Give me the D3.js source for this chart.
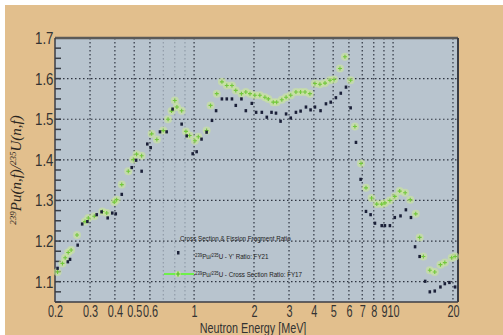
<!DOCTYPE html>
<html>
<head>
<meta charset="utf-8">
<script src="https://cdn.jsdelivr.net/npm/d3@7"></script>
<style>
  body { margin: 0; background: #fff; }
  svg { display: block; }
</style>
</head>
<body>
<script>
var width = 503;
var height = 335;

// FY17 cross section ratio (green)
var fy17Energy = [0.206, 0.218, 0.225, 0.233, 0.241, 0.258, 0.283, 0.294, 0.315, 0.346, 0.364, 0.397, 0.408, 0.433,
  0.467, 0.495, 0.514, 0.545, 0.612, 0.65, 0.70, 0.74, 0.77, 0.80, 0.82, 0.866, 0.91, 0.95, 1.01, 1.05, 1.156,
  1.21, 1.30, 1.38, 1.46, 1.55, 1.62, 1.73, 1.82, 1.91, 2.02, 2.14, 2.27, 2.36, 2.50, 2.60, 2.76, 2.90, 3.06,
  3.25, 3.43, 3.61, 3.82, 4.05, 4.29, 4.55, 4.82, 5.05, 5.41, 5.73, 6.12, 6.43, 6.90, 7.31, 7.80, 8.28, 8.77,
  9.10, 9.64, 10.2, 10.8, 11.5, 12.2, 13.0, 13.6, 14.2, 15.3, 16.2, 17.3, 18.2, 19.7, 20.5];
var fy17Ratio = [1.124, 1.145, 1.159, 1.172, 1.178, 1.215, 1.248, 1.257, 1.261, 1.273, 1.269, 1.296, 1.302, 1.339,
  1.372, 1.401, 1.414, 1.41, 1.464, 1.45, 1.472, 1.50, 1.52, 1.546, 1.53, 1.521, 1.47, 1.46, 1.447, 1.457, 1.472,
  1.534, 1.563, 1.592, 1.583, 1.583, 1.571, 1.563, 1.567, 1.563, 1.559, 1.559, 1.554, 1.55, 1.542, 1.542, 1.548, 1.554, 1.559,
  1.567, 1.567, 1.567, 1.563, 1.588, 1.586, 1.589, 1.596, 1.598, 1.625, 1.654, 1.596, 1.482, 1.391, 1.331, 1.306, 1.291, 1.291,
  1.294, 1.30, 1.31, 1.323, 1.319, 1.302, 1.267, 1.209, 1.162, 1.128, 1.124, 1.142, 1.147, 1.159, 1.162];

// FY21 fission fragment ratio (black)
var fy21Energy = [0.206, 0.232, 0.238, 0.260, 0.274, 0.291, 0.324, 0.343, 0.368, 0.388, 0.404, 0.433, 0.486, 0.511,
  0.545, 0.582, 0.605, 0.674, 0.728, 0.78, 0.866, 0.918, 0.984, 1.03, 1.09, 1.156, 1.23, 1.29, 1.38, 1.46, 1.55,
  1.62, 1.73, 1.82, 1.95, 2.05, 2.19, 2.32, 2.45, 2.58, 2.72, 2.90, 3.06, 3.25, 3.43, 3.65, 3.85, 4.05, 4.32,
  4.60, 4.86, 5.16, 5.46, 5.80, 6.12, 6.51, 6.87, 7.31, 7.71, 8.11, 8.77, 9.10, 9.64, 10.2, 10.9, 11.6, 12.3,
  12.9, 13.6, 14.5, 15.3, 16.2, 17.3, 18.2, 19.2, 20.5];
var fy21Ratio = [1.133, 1.149, 1.155, 1.19, 1.242, 1.248, 1.265, 1.272, 1.257, 1.269, 1.267, 1.315, 1.381, 1.399,
  1.372, 1.439, 1.43, 1.469, 1.469, 1.525, 1.488, 1.459, 1.415, 1.42, 1.451, 1.468, 1.497, 1.521, 1.55, 1.55, 1.55,
  1.534, 1.55, 1.521, 1.539, 1.517, 1.517, 1.505, 1.517, 1.515, 1.495, 1.513, 1.503, 1.517, 1.52, 1.53, 1.523, 1.53, 1.521,
  1.538, 1.542, 1.553, 1.564, 1.579, 1.528, 1.443, 1.352, 1.273, 1.265, 1.244, 1.238, 1.238, 1.238, 1.258, 1.262, 1.277, 1.258,
  1.186, 1.162, 1.101, 1.075, 1.077, 1.087, 1.095, 1.098, 1.087];

var xTickValues = [0.2, 0.3, 0.4, 0.5, 0.6, 1, 2, 3, 4, 5, 6, 7, 8, 9, 10, 20];
var xMinorGrid = [0.7, 0.8, 0.9];
var yTickValues = [1.1, 1.2, 1.3, 1.4, 1.5, 1.6, 1.7];

var legendTitle = "Cross Section & Fission Fragment Ratio";

var narrow = "'Liberation Sans Narrow', 'Liberation Sans', Arial, sans-serif";

var svg = d3.select("body").append("svg")
  .attr("width", width)
  .attr("height", height);

// page background
svg.append("rect").attr("width", width).attr("height", height).attr("fill", "#fff");
svg.append("rect").attr("x", 5).attr("y", 5).attr("width", width - 5).attr("height", height - 5).attr("fill", "#e2bf8d");

var plotLeft = 55, plotRight = 458, plotTop = 38, plotBottom = 302;

var x = d3.scaleLog().domain([0.2, 21.2]).range([plotLeft, plotRight]);
var y = d3.scaleLinear().domain([1.05, 1.7]).range([plotBottom, plotTop]);

svg.append("rect")
  .attr("x", plotLeft).attr("y", plotTop)
  .attr("width", plotRight - plotLeft).attr("height", plotBottom - plotTop)
  .attr("fill", "#b8c4ce");

// grid
svg.append("g").selectAll("line")
  .data(xMinorGrid)
  .enter().append("line")
  .attr("x1", d => x(d)).attr("x2", d => x(d))
  .attr("y1", plotTop).attr("y2", plotBottom)
  .attr("stroke", "#8893a0")
  .attr("stroke-width", 1)
  .attr("stroke-dasharray", "1.5,2.5");

svg.append("g").selectAll("line")
  .data(xTickValues.slice(1))
  .enter().append("line")
  .attr("x1", d => x(d)).attr("x2", d => x(d))
  .attr("y1", plotTop).attr("y2", plotBottom)
  .attr("stroke", "#2e3440")
  .attr("stroke-width", 1.2)
  .attr("stroke-dasharray", "1.5,2.5");

svg.append("g").selectAll("line")
  .data(yTickValues.slice(0, -1))
  .enter().append("line")
  .attr("x1", plotLeft).attr("x2", plotRight)
  .attr("y1", d => y(d)).attr("y2", d => y(d))
  .attr("stroke", "#2e3440")
  .attr("stroke-width", 1.2)
  .attr("stroke-dasharray", "1.5,2.5");

// minor y ticks (inside)
svg.append("g").selectAll("line")
  .data(d3.range(1.05, 1.701, 0.025))
  .enter().append("line")
  .attr("x1", plotLeft).attr("x2", plotLeft + 6)
  .attr("y1", d => y(d)).attr("y2", d => y(d))
  .attr("stroke", "#3a3f48")
  .attr("stroke-width", 1.5);

// axes
var yAxis = svg.append("g")
  .attr("transform", "translate(" + plotLeft + ",0)")
  .call(d3.axisLeft(y).tickValues(yTickValues).tickSize(0).tickPadding(2).tickFormat(d3.format(".1f")));
yAxis.select(".domain").remove();
yAxis.selectAll("text")
  .attr("font-family", narrow).attr("font-size", 17).attr("fill", "#333")
  .attr("transform", "scale(0.78,1)");

var xAxis = svg.append("g")
  .attr("transform", "translate(0," + plotBottom + ")")
  .call(d3.axisBottom(x).tickValues(xTickValues).tickSize(0).tickPadding(4).tickFormat(d => String(d)));
xAxis.select(".domain").remove();
xAxis.selectAll("text")
  .attr("font-family", narrow).attr("font-size", 16).attr("fill", "#333")
  .attr("transform", "scale(0.68,1)");

// frame
svg.append("line").attr("x1", plotLeft).attr("x2", plotRight).attr("y1", plotTop).attr("y2", plotTop)
  .attr("stroke", "#5b5a58").attr("stroke-width", 2.5);
svg.append("line").attr("x1", plotLeft).attr("x2", plotLeft).attr("y1", plotTop).attr("y2", plotBottom)
  .attr("stroke", "#3b3d44").attr("stroke-width", 1.5);
svg.append("line").attr("x1", plotRight).attr("x2", plotRight).attr("y1", plotTop).attr("y2", plotBottom)
  .attr("stroke", "#3b3d44").attr("stroke-width", 2);
svg.append("line").attr("x1", plotLeft).attr("x2", plotRight).attr("y1", plotBottom).attr("y2", plotBottom)
  .attr("stroke", "#3b3d44").attr("stroke-width", 1.5);

// data
var fy17 = fy17Energy.map((e, i) => ({e: e, r: fy17Ratio[i]}));
var fy21 = fy21Energy.map((e, i) => ({e: e, r: fy21Ratio[i]}));

var greenG = svg.append("g");
greenG.selectAll("circle")
  .data(fy17)
  .enter().append("circle")
  .attr("cx", d => x(d.e)).attr("cy", d => y(d.r))
  .attr("r", 4)
  .attr("fill", "#cbe89a")
  .attr("opacity", 0.6);
greenG.selectAll("path")
  .data(fy17)
  .enter().append("path")
  .attr("d", d => "M" + (x(d.e) - 2) + "," + y(d.r) + "h4M" + x(d.e) + "," + (y(d.r) - 2) + "v4")
  .attr("stroke", "#72c83a")
  .attr("stroke-width", 1.1);

svg.append("g").selectAll("rect")
  .data(fy21)
  .enter().append("rect")
  .attr("x", d => x(d.e) - 1.3).attr("y", d => y(d.r) - 1.6)
  .attr("width", 2.6).attr("height", 3.2)
  .attr("fill", "#1b2038");

// legend
var lg = svg.append("g")
  .attr("font-family", narrow)
  .attr("font-size", 8)
  .attr("fill", "#222");
lg.append("text").attr("transform", "translate(180,241) scale(0.78,1)").text(legendTitle);

lg.append("rect").attr("x", 177).attr("y", 251).attr("width", 2.5).attr("height", 3.5).attr("fill", "#1b2038");
var t1 = lg.append("text").attr("transform", "translate(195,259) scale(0.78,1)");
t1.append("tspan").attr("font-size", 5.5).attr("dy", -2.5).text("239");
t1.append("tspan").attr("dy", 2.5).text("Pu/");
t1.append("tspan").attr("font-size", 5.5).attr("dy", -2.5).text("235");
t1.append("tspan").attr("dy", 2.5).text("U - Y' Ratio: FY21");

lg.append("line").attr("x1", 164).attr("x2", 194).attr("y1", 274).attr("y2", 274)
  .attr("stroke", "#6ef04a").attr("stroke-width", 2);
lg.append("circle").attr("cx", 178).attr("cy", 274).attr("r", 3).attr("fill", "#c9e6a0");
lg.append("path").attr("d", "M175.5,274h5M178,271.5v5").attr("stroke", "#4cbf20").attr("stroke-width", 1.2);
var t2 = lg.append("text").attr("transform", "translate(195,277) scale(0.78,1)");
t2.append("tspan").attr("font-size", 5.5).attr("dy", -2.5).text("239");
t2.append("tspan").attr("dy", 2.5).text("Pu/");
t2.append("tspan").attr("font-size", 5.5).attr("dy", -2.5).text("235");
t2.append("tspan").attr("dy", 2.5).text("U - Cross Section Ratio: FY17");

// axis titles
svg.append("text")
  .attr("transform", "translate(253,333) scale(0.72,1)")
  .attr("text-anchor", "middle")
  .attr("font-family", narrow)
  .attr("font-size", 15)
  .attr("fill", "#333")
  .text("Neutron Energy [MeV]");

var yl = svg.append("text")
  .attr("transform", "translate(21,170) rotate(-90)")
  .attr("text-anchor", "middle")
  .attr("font-family", "'Liberation Serif', serif")
  .attr("font-style", "italic")
  .attr("font-size", 15)
  .attr("fill", "#2a2520");
yl.append("tspan").attr("font-size", 9).attr("dy", -5).text("239");
yl.append("tspan").attr("dy", 5).text("Pu(n,f)/");
yl.append("tspan").attr("font-size", 9).attr("dy", -5).text("235");
yl.append("tspan").attr("dy", 5).text("U(n,f)");
</script>
</body>
</html>
